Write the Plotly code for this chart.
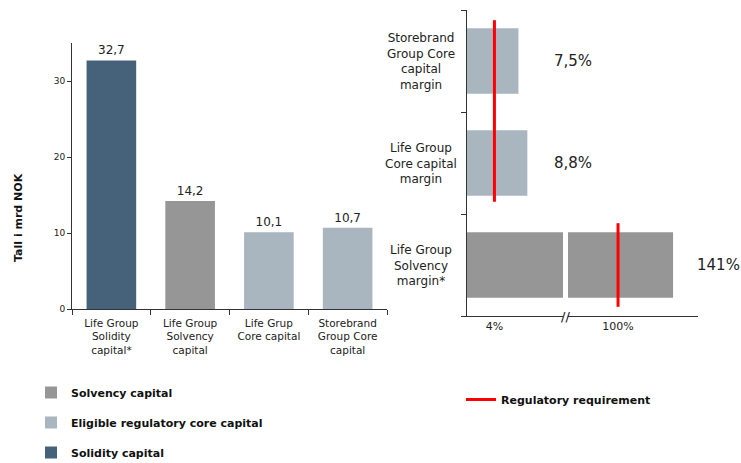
"""Capital and margin overview: bar chart plus broken-axis margin chart."""

import plotly.graph_objects as go

# ---- data -------------------------------------------------------------
capital_labels = [
    "Life Group<br>Solidity<br>capital*",
    "Life Group<br>Solvency<br>capital",
    "Life Grup<br>Core capital",
    "Storebrand<br>Group Core<br>capital",
]
capital_values = [32.7, 14.2, 10.1, 10.7]
capital_kind = ["solidity", "solvency", "core", "core"]

margin_labels = [
    "Life Group<br>Solvency<br>margin*",
    "Life Group<br>Core capital<br>margin",
    "Storebrand<br>Group Core<br>capital<br>margin",
]
margin_values = [141, 8.8, 7.5]
margin_kind = ["solvency", "core", "core"]
margin_requirement = [100, 4, 4]

y_ticks = [0, 10, 20, 30]

# ---- style ------------------------------------------------------------
W, H = 741, 463
FONT = "DejaVu Sans"
TEXT = "#222222"
AXIS = "#333333"
RED = "#FF0000"

KINDS = {
    "solvency": ("Solvency capital", "#969696", 1),
    "core": ("Eligible regulatory core capital", "#A9B5BF", 2),
    "solidity": ("Solidity capital", "#45627A", 3),
}

LEFT_SEG_MAX = 14          # end of the left (small %) part of the broken axis
RIGHT_SEG = [62.7, 159.6]  # visible part of the right (large %) segment


def px_x(p):
    return p / W


def px_y(p):
    return 1 - p / H


def fmt(v):
    return f"{v:.1f}".replace(".", ",")


fig = go.Figure()

# left chart: one trace per colour
for kind, (name, color, rank) in KINDS.items():
    xs = [c for c, k in zip(capital_labels, capital_kind) if k == kind]
    ys = [v for v, k in zip(capital_values, capital_kind) if k == kind]
    fig.add_trace(go.Bar(
        x=xs, y=ys, name=f"<b>{name}</b>", legendgroup=kind, legendrank=rank,
        marker=dict(color=color, line=dict(width=0)), width=0.63,
        text=[fmt(v) for v in ys], textposition="outside",
        textfont=dict(size=12, color=TEXT), cliponaxis=False,
        xaxis="x", yaxis="y", legend="legend",
    ))

# right chart: bars on the broken axis (left and right segment)
for kind in ["core", "solvency"]:
    name, color, rank = KINDS[kind]
    idx = [i for i, k in enumerate(margin_kind) if k == kind]
    vals = [margin_values[i] for i in idx]
    fig.add_trace(go.Bar(
        x=vals, y=idx, orientation="h", width=0.64, showlegend=False,
        legendgroup=kind, marker=dict(color=color, line=dict(width=0)),
        xaxis="x2", yaxis="y2",
    ))
    big = [(i, v) for i, v in zip(idx, vals) if v > LEFT_SEG_MAX]
    if big:
        fig.add_trace(go.Bar(
            x=[v for _, v in big], y=[i for i, _ in big], orientation="h",
            width=0.64, showlegend=False, legendgroup=kind,
            marker=dict(color=color, line=dict(width=0)),
            xaxis="x3", yaxis="y2",
        ))

# regulatory requirement lines
small_req = [(i, r) for i, r in enumerate(margin_requirement) if r <= LEFT_SEG_MAX]
big_req = [(i, r) for i, r in enumerate(margin_requirement) if r > LEFT_SEG_MAX]
if small_req:
    lo = min(i for i, _ in small_req)
    hi = max(i for i, _ in small_req)
    fig.add_trace(go.Scatter(
        x=[small_req[0][1]] * 2, y=[lo - 0.38, hi + 0.40], mode="lines",
        line=dict(color=RED, width=3), name="<b>Regulatory requirement</b>",
        legend="legend2", xaxis="x2", yaxis="y2", hoverinfo="skip",
    ))
for i, r in big_req:
    fig.add_trace(go.Scatter(
        x=[r, r], y=[i - 0.41, i + 0.41], mode="lines",
        line=dict(color=RED, width=3), showlegend=False,
        xaxis="x3", yaxis="y2", hoverinfo="skip",
    ))

# ---- annotations ------------------------------------------------------
ann = []
for i, (lab, v) in enumerate(zip(margin_labels, margin_values)):
    ann.append(dict(
        x=px_x(421), y=i, xref="paper", yref="y2", text=lab, showarrow=False,
        xanchor="center", align="center", font=dict(size=12, color=TEXT),
    ))
    label_x = 718 if v > LEFT_SEG_MAX else 573
    txt = f"{v:.0f}%" if v > LEFT_SEG_MAX else fmt(v) + "%"
    ann.append(dict(
        x=px_x(label_x), y=i, xref="paper", yref="y2", text=txt,
        xanchor="center", showarrow=False, font=dict(size=15, color=TEXT),
    ))

ann.append(dict(
    x=px_x(18), y=px_y(218), xref="paper", yref="paper",
    xanchor="center", yanchor="middle",
    text="<b>Tall i mrd NOK</b>", textangle=-90, showarrow=False,
    font=dict(size=11, color="#111111"),
))
ann.append(dict(
    x=px_x(565.5), y=px_y(316), xref="paper", yref="paper", text="//",
    xanchor="center", yanchor="middle",
    showarrow=False, font=dict(size=13, color="#111111"),
))

axis_common = dict(showline=True, linecolor=AXIS, linewidth=1, zeroline=False,
                   showgrid=False)

fig.update_layout(
    width=W, height=H,
    margin=dict(l=0, r=0, t=0, b=0, autoexpand=False),
    paper_bgcolor="white", plot_bgcolor="white",
    font=dict(family=FONT, size=11, color=TEXT),
    barmode="overlay",
    xaxis=dict(
        **axis_common, domain=[px_x(72), px_x(387)], anchor="y",
        categoryorder="array", categoryarray=capital_labels,
        tickson="boundaries", ticks="outside", ticklen=5, tickcolor=AXIS,
        ticklabelstandoff=4, tickfont=dict(size=10.5, color=TEXT),
    ),
    yaxis=dict(
        **axis_common, domain=[px_y(309), px_y(43)], anchor="x",
        range=[0, 35], tickvals=y_ticks, ticks="outside", ticklen=4,
        tickcolor=AXIS, tickfont=dict(size=9, color=TEXT),
    ),
    xaxis2=dict(
        **axis_common, domain=[px_x(467), px_x(563)], anchor="y2",
        range=[0, LEFT_SEG_MAX], tickvals=[margin_requirement[1]],
        ticktext=[f"{margin_requirement[1]}%"], ticks="",
        tickfont=dict(size=11, color=TEXT),
    ),
    xaxis3=dict(
        **axis_common, domain=[px_x(568), px_x(698)], anchor="y2",
        range=RIGHT_SEG, tickvals=[margin_requirement[0]],
        ticktext=[f"{margin_requirement[0]}%"], ticks="",
        tickfont=dict(size=11, color=TEXT),
    ),
    yaxis2=dict(
        **axis_common, domain=[px_y(316), px_y(10)], anchor="x2",
        range=[-0.5, 2.5], tickvals=[-0.5, 0.5, 1.5, 2.5], ticks="outside",
        ticklen=5, tickcolor=AXIS, showticklabels=False,
    ),
    legend=dict(
        x=px_x(31), y=px_y(378), xanchor="left", yanchor="top",
        bgcolor="rgba(0,0,0,0)", tracegroupgap=11,
        font=dict(size=11, color="#111111"),
    ),
    legend2=dict(
        x=px_x(461), y=px_y(385), xanchor="left", yanchor="top",
        bgcolor="rgba(0,0,0,0)", font=dict(size=11, color="#111111"),
    ),
    annotations=ann,
    showlegend=True,
)

fig.write_html(
    "out.html",
    config={"displayModeBar": False},
    post_script="document.body.style.margin = '0';",
)
